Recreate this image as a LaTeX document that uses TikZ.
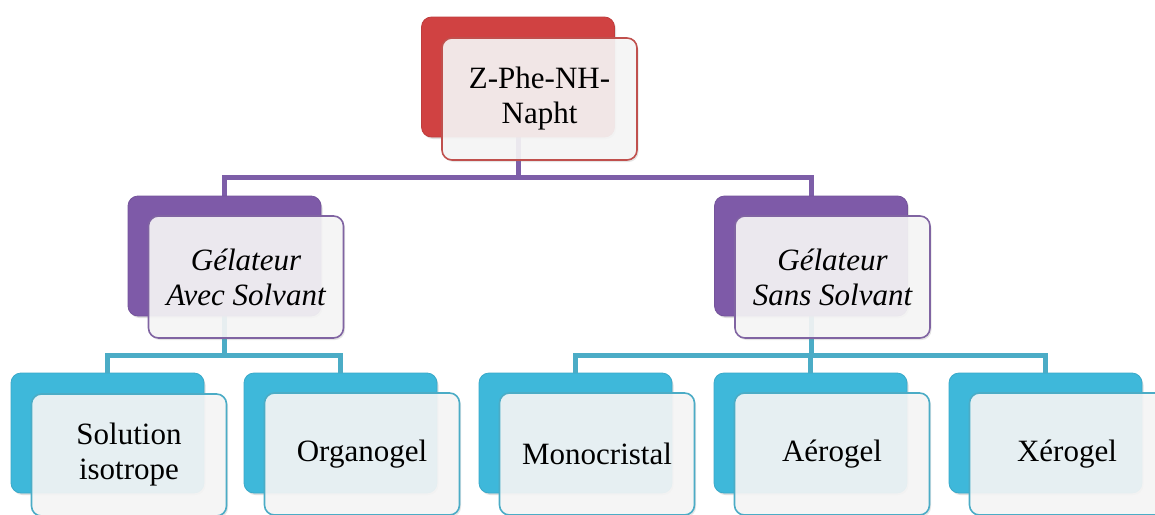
\documentclass[tikz,border=0pt]{standalone}
\usepackage{fontspec}
\setmainfont{Liberation Serif}
\usetikzlibrary{shadows}
\definecolor{cred}{HTML}{D04242}
\definecolor{cpur}{HTML}{7E5AA8}
\definecolor{ccya}{HTML}{3EB8DA}
\definecolor{lpur}{HTML}{7D5EA8}
\definecolor{lcya}{HTML}{4BACC6}
\definecolor{bred}{HTML}{C0504D}
\definecolor{bpur}{HTML}{8064A2}
\definecolor{bcya}{HTML}{4BACC6}
\definecolor{frontfill}{HTML}{F7F7F7}
\begin{document}
\begin{tikzpicture}[x=1pt,y=-1pt,
  backbox/.style={rounded corners=10pt, minimum width=193pt, minimum height=120pt,
    inner sep=0pt, fill=#1, draw=#1!92!black, line width=0.8pt,
    drop shadow={opacity=0.25, shadow xshift=1.5pt, shadow yshift=-2pt}},
  frontbox/.style={rounded corners=10pt, minimum width=195pt, minimum height=122pt,
    inner sep=0pt, draw=#1, line width=1.6pt, fill=frontfill, fill opacity=0.9,
    text opacity=1, align=center, font=\fontsize{31}{35}\selectfont,
    drop shadow={opacity=0.2, shadow xshift=1.5pt, shadow yshift=-2pt}},
  anchorbox/.style={inner sep=0pt, minimum width=193pt, minimum height=120pt},
  pconn/.style={draw=lpur, line width=5pt},
  cconn/.style={draw=lcya, line width=5pt}]
\clip (0,0) rectangle (1155,514);
\fill[white] (0,0) rectangle (1155,514);
% junctions
\coordinate (j0) at (518,177);
\coordinate (j1) at (224.5,355);
\coordinate (j2) at (811,355);
% anchors for the connectors (behind boxes)
\node[anchorbox] (tb) at (518,77) {};
\node[anchorbox] (m1b) at (224.5,256) {};
\node[anchorbox] (m2b) at (811,256) {};
\draw[pconn] (tb.south) -- (j0);
\draw[pconn] (j0) -| (m1b.north);
\draw[pconn] (j0) -| (m2b.north);
\draw[cconn] (m1b.south) -- (j1);
\draw[cconn] (m2b.south) -- (j2);
% back boxes
\node[backbox=cred] (tbb) at (518,77) {};
\node[backbox=cpur] (m1bb) at (224.5,256) {};
\node[backbox=cpur] (m2bb) at (811,256) {};
\node[backbox=ccya] (b1b) at (107.5,433) {};
\node[backbox=ccya] (b2b) at (340.5,433) {};
\node[backbox=ccya] (b3b) at (575.5,433) {};
\node[backbox=ccya] (b4b) at (810.5,433) {};
\node[backbox=ccya] (b5b) at (1045.5,433) {};
\draw[cconn] (j1) -| (b1b.north);
\draw[cconn] (j1) -| (b2b.north);
\draw[cconn] (j2) -| (b3b.north);
\draw[cconn] (j2) -| (b4b.north);
\draw[cconn] (j2) -| (b5b.north);
% front boxes
\node[frontbox=bred] (tf) at (539.5,99) {Z-Phe-NH-\\Napht};
\node[frontbox=bpur] (m1f) at (246,277) {\itshape Gélateur\\\itshape Avec Solvant};
\node[frontbox=bpur] (m2f) at (832.5,277) {\itshape Gélateur\\\itshape Sans Solvant};
\node[frontbox=bcya] (b1f) at (129,455) {Solution\\isotrope};
\node[frontbox=bcya] (b2f) at (362,454) {Organogel};
\node[frontbox=bcya] (b3f) at (597,454) {Monocristal};
\node[frontbox=bcya] (b4f) at (832,454) {Aérogel};
\node[frontbox=bcya] (b5f) at (1067,454) {Xérogel};
\end{tikzpicture}
\end{document}
